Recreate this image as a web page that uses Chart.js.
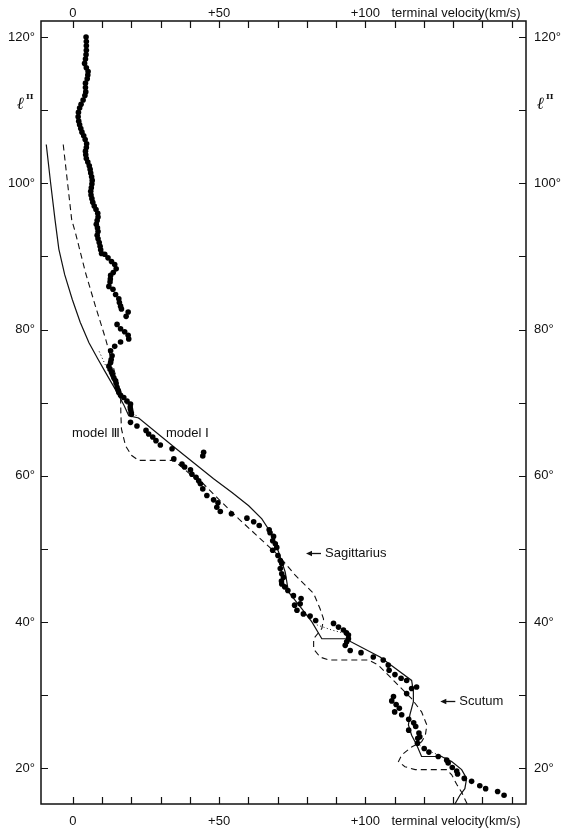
<!DOCTYPE html>
<html>
<head>
<meta charset="utf-8">
<script src="https://cdn.jsdelivr.net/npm/chart.js@4.4.0/dist/chart.umd.min.js"></script>
<style>
  html, body { margin: 0; padding: 0; background: #fff; }
  #wrap { width: 570px; height: 834px; }
</style>
</head>
<body>
<div id="wrap"><canvas id="chart" width="570" height="834"></canvas></div>
<script>
// observed terminal velocities: galactic longitude (deg) and velocity (km/s)
const obsL = [120.0,119.4,118.8,118.2,117.6,117.0,116.4,115.8,115.3,114.8,114.3,113.7,113.1,112.5,112.0,111.4,110.8,110.3,109.7,109.1,
  108.5,108.0,107.5,107.0,106.5,106.0,105.4,104.9,104.4,103.9,103.4,102.9,102.4,101.9,101.4,100.9,100.4,99.9,99.4,98.9,
  98.4,97.9,97.4,96.9,96.4,95.9,95.4,94.9,94.4,93.9,93.4,92.9,92.4,91.9,91.4,90.9,90.4,90.3,89.8,89.3,
  88.9,88.3,87.8,87.4,86.9,86.5,85.9,85.5,84.8,84.2,83.7,83.2,82.8,82.4,81.8,80.7,80.1,79.7,79.2,78.7,
  78.3,77.7,77.1,76.4,75.9,75.5,75.0,74.6,74.2,73.8,73.4,73.0,72.6,72.1,71.7,71.4,71.0,70.7,70.2,69.8,
  69.4,69.1,68.7,68.4,67.3,66.8,66.2,65.7,65.3,64.8,64.2,63.7,63.2,62.7,62.3,61.6,61.2,60.8,60.2,59.8,
  59.3,58.9,58.2,57.3,56.7,56.3,55.7,55.1,54.8,54.2,53.7,53.2,52.6,52.2,51.7,51.1,50.7,50.2,49.8,49.1,
  48.4,48.0,47.3,46.6,46.1,45.6,45.2,44.8,44.3,43.6,43.2,42.5,42.3,41.6,41.1,40.8,40.2,39.8,39.3,38.9,
  38.5,38.2,37.7,37.3,36.8,36.1,35.8,35.2,34.8,34.1,33.4,32.8,32.3,32.0,31.1,30.9,30.2,29.8,29.2,28.7,
  28.2,27.7,27.3,26.7,26.2,25.7,25.2,24.8,24.3,24.1,23.4,22.7,22.2,21.6,21.1,20.7,20.1,19.6,19.2,18.6,
  18.2,17.6,17.2,16.8,16.3];
const obsV = [4.5,4.6,4.6,4.6,4.5,4.3,4.0,4.6,5.2,5.1,4.9,4.3,4.3,4.4,4.1,3.5,2.8,2.3,1.9,1.8,
  2.0,2.3,2.7,3.1,3.7,4.2,4.7,4.6,4.3,4.4,4.6,5.1,5.6,5.9,6.1,6.4,6.6,6.5,6.3,6.1,
  6.2,6.5,6.8,7.3,7.9,8.5,8.6,8.3,8.0,8.4,8.6,8.3,8.6,9.0,9.3,9.5,9.8,10.9,12.0,13.2,
  14.3,14.8,13.8,12.9,12.8,12.7,12.3,13.7,14.6,15.7,15.9,16.3,16.6,18.9,18.2,15.1,16.3,17.7,18.9,19.1,
  16.3,14.3,12.9,13.4,13.1,12.9,12.3,12.7,13.2,13.6,14.0,14.6,14.8,15.1,15.5,15.7,16.3,17.4,18.5,19.7,
  19.6,19.7,19.9,20.0,19.7,21.9,25.0,25.9,27.3,28.4,29.9,33.9,44.7,44.4,34.5,37.3,38.2,40.2,40.7,42.1,
  43.0,43.6,44.4,45.8,48.1,49.6,49.2,50.4,54.2,59.5,61.8,63.7,67.1,67.4,68.6,68.3,69.2,69.7,68.3,70.1,
  70.9,71.4,70.9,71.4,72.0,71.3,71.4,72.4,73.5,75.4,78.0,77.7,75.8,76.6,78.8,81.1,83.0,89.1,90.8,92.5,
  93.5,94.2,94.2,93.6,93.1,94.8,98.5,102.7,106.1,107.8,108.1,110.1,112.2,114.1,117.5,115.8,114.1,109.6,109.0,110.5,
  111.6,110.0,112.4,114.8,116.5,117.2,114.8,118.3,118.6,117.9,117.8,120.1,121.7,124.9,127.8,128.3,129.7,131.2,131.5,133.8,
  136.3,139.1,141.1,145.2,147.4];

// model I (solid)
const model1L = [105.3,100,95,91,87.5,84.1,81,78.2,76,74.1,71.4,69.6,68.2,67.9,63.8,59.6,57.7,55.9,54.1,52.3,
  49.6,46.8,44.1,41.8,40.0,37.7,37.7,35.2,32.0,30.5,29.1,27.3,25.9,24.5,23.2,21.6,21.6,20.9,19.8,18.6,17.2,16.3,15.1];
const model1V = [-9.1,-7.6,-6.1,-4.8,-2.8,-0.2,2.5,5.5,8.5,11.2,15.1,17.5,19.1,22.5,35.0,48.1,54.4,60.1,64.6,67.5,
  70.3,72.6,73.7,78.3,81.7,85.1,93.1,105.0,115.8,116.4,116.4,115.2,114.7,115.8,117.5,119.2,126.0,129.5,132.9,134.6,134.0,132.3,130.6];

// model III (dashed)
const model3L = [105.3,95,93.2,87.8,83.2,78.7,73.7,70.9,68.5,66.4,64.1,62.8,62.1,62.1,60.0,59.1,56.8,54.1,51.6,49.1,
  46.4,44.8,43.9,41.8,40.4,39.1,37.7,36.3,35.2,34.8,34.8,34.1,31.8,29.5,27.7,25.9,24.5,23.6,22.9,21.8,
  20.9,20.2,19.8,19.8,19.1,17.8,16.7,15.1];
const model3V = [-3.3,-0.4,0.9,4.3,7.7,11.2,14.6,16.3,16.4,16.6,18.0,20.0,22.5,34.5,40.7,44.1,49.8,56.7,63.5,70.3,
  76.0,80.0,82.3,84.5,85.7,85.1,82.3,82.3,84.5,87.4,101.0,104.4,110.1,115.8,119.2,121.0,120.5,119.2,115.8,112.4,
  111.3,113.5,117.0,127.8,129.5,131.2,132.9,134.8];

// fine dotted pieces
const dotted1L = [77, 74.8, 72.3, 70, 67.8];
const dotted1V = [9, 11.5, 14.5, 18, 22.5];
const dotted2L = [39.6, 38.9, 38.3];
const dotted2V = [83.4, 88.5, 94.2];
const dotted3L = [23.4, 22.3, 21.4];
const dotted3V = [117.5, 122.0, 127.5];

// axis ticks and labels
const velocityTicks = [0,10,20,30,40,50,60,70,80,90,100,110,120,130,140,150];
const velocityLabelValues = [0, 50, 100];
const velocityLabelTexts = ['0', '+50', '+100'];
const velocityTitle = 'terminal velocity(km/s)';
const longitudeTicks = [20,30,40,50,60,70,80,90,100,110,120];
const longitudeLabelValues = [20,40,60,80,100,120];
const longitudeTitleValue = 110.8;

// annotations: text, velocity, longitude
const noteTexts = ['model \u2162', 'model \u2160'];
const noteV = [-0.3, 31.8];
const noteL = [65.8, 65.8];
const arrowTexts = ['Sagittarius', 'Scutum'];
const arrowV = [79.7, 125.6];
const arrowL = [49.5, 29.2];

const toPts = (vs, ls) => vs.map((v, i) => ({ x: v, y: ls[i] }));
const FONT = '"Liberation Sans", "DejaVu Sans", Arial, sans-serif';

const axesPlugin = {
  id: 'axesPlugin',
  afterDraw(chart) {
    const { ctx, chartArea: a, scales: { x, y } } = chart;
    ctx.save();
    ctx.strokeStyle = '#111';
    ctx.fillStyle = '#111';
    ctx.lineWidth = 1.5;
    ctx.strokeRect(a.left, a.top, a.right - a.left, a.bottom - a.top);

    ctx.lineWidth = 1.2;
    ctx.beginPath();
    velocityTicks.forEach(v => {
      const px = Math.round(x.getPixelForValue(v)) + 0.5;
      ctx.moveTo(px, a.top); ctx.lineTo(px, a.top + 7);
      ctx.moveTo(px, a.bottom); ctx.lineTo(px, a.bottom - 7);
    });
    longitudeTicks.forEach(l => {
      const py = Math.round(y.getPixelForValue(l)) + 0.5;
      ctx.moveTo(a.left, py); ctx.lineTo(a.left + 7, py);
      ctx.moveTo(a.right, py); ctx.lineTo(a.right - 7, py);
    });
    ctx.stroke();

    ctx.font = '13px ' + FONT;
    ctx.textBaseline = 'middle';
    ctx.textAlign = 'center';
    velocityLabelValues.forEach((v, i) => {
      const px = x.getPixelForValue(v);
      ctx.fillText(velocityLabelTexts[i], px, 13);
      ctx.fillText(velocityLabelTexts[i], px, 821);
    });
    ctx.textAlign = 'left';
    const tx = x.getPixelForValue(100) + 26;
    ctx.fillText(velocityTitle, tx, 13);
    ctx.fillText(velocityTitle, tx, 821);

    longitudeLabelValues.forEach(l => {
      const py = y.getPixelForValue(l);
      ctx.textAlign = 'right';
      ctx.fillText(l + '\u00b0', a.left - 6, py);
      ctx.textAlign = 'left';
      ctx.fillText(l + '\u00b0', a.right + 8, py);
    });

    // l^II labels
    const ly = y.getPixelForValue(longitudeTitleValue);
    [[17, ly], [a.right + 11, ly]].forEach(([lx, yy]) => {
      ctx.textAlign = 'left';
      ctx.font = 'italic bold 17px "DejaVu Serif", serif';
      ctx.fillText('\u2113', lx, yy);
      ctx.font = 'bold 8px "DejaVu Serif", serif';
      ctx.fillText('II', lx + 9, yy - 7);
    });

    // model annotations
    ctx.font = '13px ' + FONT;
    ctx.textAlign = 'left';
    noteTexts.forEach((t, i) => {
      ctx.fillText(t, x.getPixelForValue(noteV[i]), y.getPixelForValue(noteL[i]));
    });

    // arrows
    arrowTexts.forEach((t, i) => {
      const px = x.getPixelForValue(arrowV[i]);
      const py = Math.round(y.getPixelForValue(arrowL[i])) + 0.5;
      ctx.lineWidth = 1.3;
      ctx.beginPath();
      ctx.moveTo(px + 3, py); ctx.lineTo(px + 15, py);
      ctx.stroke();
      ctx.beginPath();
      ctx.moveTo(px, py); ctx.lineTo(px + 6, py - 2.8); ctx.lineTo(px + 6, py + 2.8);
      ctx.closePath(); ctx.fill();
      ctx.fillText(t, px + 19, py);
    });
    ctx.restore();
  }
};

const lineStyle = (data, dash, width) => ({
  data, showLine: true, pointRadius: 0, borderColor: '#111', borderWidth: width,
  borderDash: dash, tension: 0, fill: false, order: 2
});

new Chart(document.getElementById('chart'), {
  type: 'scatter',
  data: {
    datasets: [
      { data: toPts(obsV, obsL), pointRadius: 2.8, pointBackgroundColor: '#000', pointBorderWidth: 0, showLine: false, order: 0 },
      lineStyle(toPts(model1V, model1L), [], 1.2),
      lineStyle(toPts(model3V, model3L), [6, 4], 1.1),
      lineStyle(toPts(dotted1V, dotted1L), [1, 2.5], 1),
      lineStyle(toPts(dotted2V, dotted2L), [1, 2.5], 1),
      lineStyle(toPts(dotted3V, dotted3L), [1, 2.5], 1)
    ]
  },
  options: {
    responsive: false,
    animation: false,
    devicePixelRatio: 1,
    layout: { padding: { left: 41, right: 44, top: 21, bottom: 30 } },
    plugins: { legend: { display: false }, tooltip: { enabled: false } },
    scales: {
      x: { type: 'linear', min: -10.9, max: 154.9, display: false },
      y: { type: 'linear', min: 15.1, max: 122.2, display: false }
    }
  },
  plugins: [axesPlugin]
});
</script>
</body>
</html>
